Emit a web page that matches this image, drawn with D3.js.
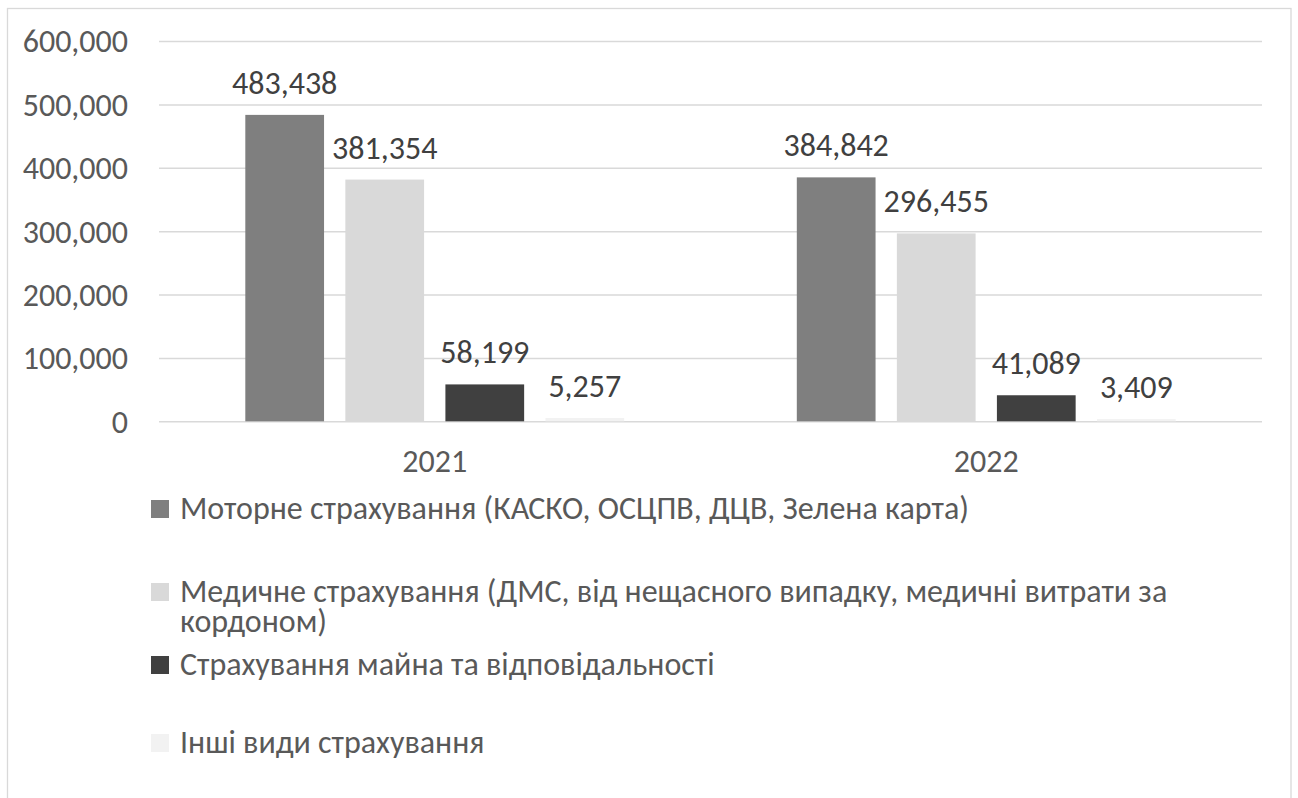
<!DOCTYPE html>
<html>
<head>
<meta charset="utf-8">
<script src="https://cdn.jsdelivr.net/npm/d3@7"></script>
<style>
	body { margin: 0; background: #fff; }
	svg { display: block; font-family: Carlito, "Open Sans", sans-serif; }
</style>
</head>
<body>
<div id="chart"></div>
<script>
// data
var years = ['2021', '2022'];
var seriesNames = [
	'Моторне страхування (КАСКО, ОСЦПВ, ДЦВ, Зелена карта)',
	'Медичне страхування (ДМС, від нещасного випадку, медичні витрати за кордоном)',
	'Страхування майна та відповідальності',
	'Інші види страхування'
];
var motor = [483438, 384842];
var medical = [381354, 296455];
var property = [58199, 41089];
var other = [5257, 3409];
var yTicks = [0, 100000, 200000, 300000, 400000, 500000, 600000];

var colors = ['#7f7f7f', '#d9d9d9', '#404040', '#f2f2f2'];
var seriesValues = [motor, medical, property, other];

drawChart();

function drawChart(){
	var W = 1298, H = 798;
	var plotLeft = 159, plotRight = 1262, plotTop = 41, plotBottom = 421.3;
	var fmt = d3.format(',');

	var svg = d3.select('#chart').append('svg')
		.attr('width', W)
		.attr('height', H);

	// chart frame
	svg.append('rect')
		.attr('x', 7.5).attr('y', 8.5)
		.attr('width', 1283.5).attr('height', 820)
		.attr('fill', 'none')
		.attr('stroke', '#d9d9d9')
		.attr('stroke-width', 1.3);

	var y = d3.scaleLinear().domain([0, 600000]).range([plotBottom, plotTop]);

	var x0 = d3.scaleBand().domain(years).range([plotLeft, plotRight])
		.paddingInner(0.313).paddingOuter(0.1565);

	var x1 = d3.scaleBand().domain(d3.range(seriesNames.length))
		.range([0, x0.bandwidth()])
		.paddingInner(0.213).paddingOuter(0);

	// gridlines + y labels
	var yAxis = d3.axisLeft(y)
		.tickValues(yTicks)
		.tickSize(-(plotRight - plotLeft))
		.tickPadding(31)
		.tickFormat(fmt);

	var gy = svg.append('g')
		.attr('transform', 'translate(' + plotLeft + ',0)')
		.call(yAxis);
	gy.select('.domain').remove();
	gy.selectAll('.tick line').attr('stroke', '#d9d9d9').attr('stroke-width', 1.5);
	gy.selectAll('.tick text')
		.attr('fill', '#595959')
		.attr('font-size', 32)
		.attr('dy', '0.34em')
		.style('font-family', 'Carlito, "Open Sans", sans-serif');

	// bars
	var rows = [];
	years.forEach(function(yr, i){
		seriesValues.forEach(function(vals, s){
			rows.push({ year: yr, s: s, val: vals[i] });
		});
	});

	svg.selectAll('rect.bar')
		.data(rows)
		.enter()
		.append('rect')
		.attr('class', 'bar')
		.attr('x', function(d){ return x0(d.year) + x1(d.s); })
		.attr('y', function(d){ return y(d.val); })
		.attr('width', x1.bandwidth())
		.attr('height', function(d){ return y(0) - y(d.val); })
		.attr('fill', function(d){ return colors[d.s]; });

	// value labels
	svg.selectAll('text.val')
		.data(rows)
		.enter()
		.append('text')
		.attr('class', 'val')
		.attr('x', function(d){ return x0(d.year) + x1(d.s) + x1.bandwidth() / 2; })
		.attr('y', function(d){ return y(d.val) - 21; })
		.attr('text-anchor', 'middle')
		.attr('font-size', 32)
		.attr('fill', '#404040')
		.text(function(d){ return fmt(d.val); });

	// category labels
	var xAxis = d3.axisBottom(x0).tickSize(0).tickPadding(0);
	var gx = svg.append('g')
		.attr('transform', 'translate(0,' + plotBottom + ')')
		.call(xAxis);
	gx.select('.domain').remove();
	gx.selectAll('.tick text')
		.attr('y', 51)
		.attr('dy', 0)
		.attr('fill', '#595959')
		.attr('font-size', 32)
		.style('font-family', 'Carlito, "Open Sans", sans-serif');

	// legend
	var legendBase = [519, 602, 675, 753];
	var legendRight = 1190;
	var lineGap = 30;

	var legend = svg.selectAll('g.leg')
		.data(seriesNames)
		.enter()
		.append('g')
		.attr('class', 'leg');

	legend.append('rect')
		.attr('x', 151)
		.attr('y', function(d, i){ return legendBase[i] - 19; })
		.attr('width', 18)
		.attr('height', 18)
		.attr('fill', function(d, i){ return colors[i]; });

	legend.append('text')
		.attr('x', 180)
		.attr('y', function(d, i){ return legendBase[i]; })
		.attr('font-size', 32)
		.attr('fill', '#595959')
		.each(function(d){
			var t = d3.select(this);
			var words = d.split(' ');
			var line = [];
			var ts = t.append('tspan').attr('x', 180);
			words.forEach(function(w){
				line.push(w);
				ts.text(line.join(' '));
				if (180 + ts.node().getComputedTextLength() > legendRight && line.length > 1) {
					line.pop();
					ts.text(line.join(' '));
					line = [w];
					ts = t.append('tspan').attr('x', 180).attr('dy', lineGap).text(w);
				}
			});
		});
}
</script>
</body>
</html>
